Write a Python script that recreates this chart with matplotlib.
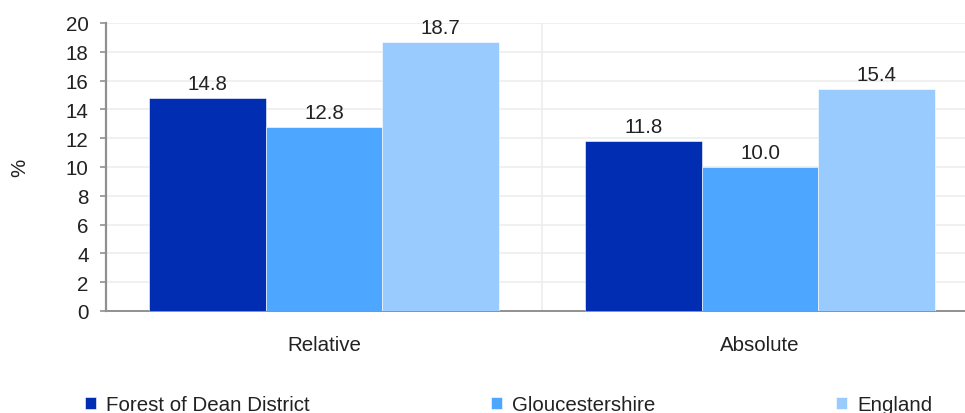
import numpy as np
import matplotlib.pyplot as plt

plt.rcParams['font.family'] = ['Liberation Sans', 'DejaVu Sans']

categories = ['Relative', 'Absolute']
series_names = ['Forest of Dean District', 'Gloucestershire', 'England']
values = {
    'Forest of Dean District': [14.8, 11.8],
    'Gloucestershire': [12.8, 10.0],
    'England': [18.7, 15.4],
}
colors = ['#002db2', '#4da6ff', '#99cbff']
yticks = list(range(0, 21, 2))

fs = 14.8
fig = plt.figure(figsize=(9.65, 4.14), dpi=100)
ax = fig.add_axes([106 / 965, 102 / 414, (965 - 106) / 965, 288 / 414])

x = np.arange(len(categories))
w = 0.268
for i, name in enumerate(series_names):
    pos = x + (i - 1) * w
    bars = ax.bar(pos, values[name], width=w, color=colors[i], label=name,
                  edgecolor='white', linewidth=0.4, zorder=3)
    for b, v in zip(bars, values[name]):
        ax.annotate(f'{v:.1f}', (b.get_x() + b.get_width() / 2, v),
                    xytext=(0, 3.5), textcoords='offset points',
                    ha='center', va='bottom', fontsize=fs, color='#222222')

ax.set_xlim(-0.5, -0.5 + (965 - 106) / 436)
ax.set_ylim(0, 20)
ax.set_yticks(yticks)
ax.set_xticks(x)
ax.set_xticklabels(categories)

# light grid, plus a divider between the two groups
ax.grid(axis='y', color='#eeeeee', linewidth=1.2, zorder=0)
ax.axvline(0.5, color='#eeeeee', linewidth=1.2, zorder=0)

for s in ['top', 'right']:
    ax.spines[s].set_visible(False)
ax.spines['left'].set_color('#909090')
ax.spines['left'].set_linewidth(1.6)
ax.spines['bottom'].set_color('#909090')
ax.spines['bottom'].set_linewidth(1.4)

ax.tick_params(axis='y', length=4.5, width=1.2, color='#909090',
               pad=8, labelsize=fs, labelcolor='#222222')
ax.tick_params(axis='x', length=0, pad=17, labelsize=fs, labelcolor='#222222')

ax.set_ylabel('%', fontsize=fs, color='#222222', labelpad=26)

leg = fig.legend(loc='center left', bbox_to_anchor=(85 / 965, 1 - 405.5 / 414),
                 ncol=3, frameon=False, fontsize=fs, handlelength=0.55,
                 handleheight=0.55, handletextpad=0.48, columnspacing=8.8,
                 borderaxespad=0, borderpad=0)
for t in leg.get_texts():
    t.set_color('#222222')

fig.savefig('out.png', dpi=100)
